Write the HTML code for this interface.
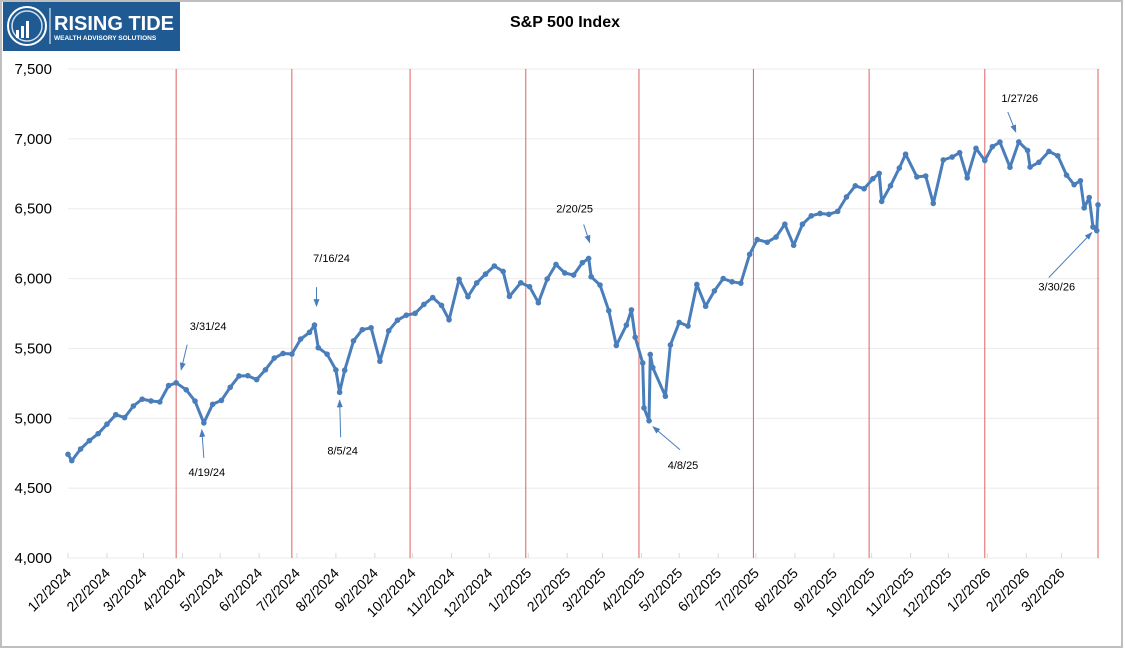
<!DOCTYPE html>
<html><head><meta charset="utf-8"><style>
body{margin:0;background:#fff;}
svg text{font-family:"Liberation Sans",sans-serif;}
</style></head><body>
<svg id="chart" width="1125" height="650" xmlns="http://www.w3.org/2000/svg">
<rect x="1" y="1" width="1121" height="646" fill="#fff" stroke="#bfbfbf" stroke-width="2"/>
<g>
<rect x="3" y="2" width="177" height="49" fill="#1f5a93"/>
<circle cx="27" cy="26" r="19" fill="none" stroke="#fff" stroke-width="2"/>
<circle cx="27" cy="26" r="15" fill="none" stroke="#cfe0f0" stroke-width="1.5"/>
<rect x="16" y="30" width="3" height="8" fill="#fff"/><rect x="21" y="26" width="3" height="12" fill="#fff"/><rect x="26" y="21" width="3" height="17" fill="#fff"/>
<line x1="50" y1="8" x2="50" y2="44" stroke="#fff" stroke-width="1"/>
<text x="54" y="30" font-size="20" font-weight="bold" fill="#fff">RISING TIDE</text>
<text x="54" y="40" font-size="6.5" font-weight="bold" fill="#fff">WEALTH ADVISORY SOLUTIONS</text>
</g>
<text x="565" y="27" font-size="16" font-weight="bold" text-anchor="middle">S&amp;P 500 Index</text>
<g id="grid"></g><g id="vlines"></g><g id="axes"></g><g id="series"></g><g id="ann"></g>
</svg>
<script>
const yTicks=[4000,4500,5000,5500,6000,6500,7000,7500];
const xTickLabels=["1/2/2024","2/2/2024","3/2/2024","4/2/2024","5/2/2024","6/2/2024","7/2/2024","8/2/2024","9/2/2024","10/2/2024","11/2/2024","12/2/2024","1/2/2025","2/2/2025","3/2/2025","4/2/2025","5/2/2025","6/2/2025","7/2/2025","8/2/2025","9/2/2025","10/2/2025","11/2/2025","12/2/2025","1/2/2026","2/2/2026","3/2/2026"];
const quarterLines=["3/28/2024","6/28/2024","9/30/2024","12/31/2024","3/31/2025","6/30/2025","9/30/2025","12/31/2025","3/31/2026"];
const dates=["1/2/2024","1/5/2024","1/12/2024","1/19/2024","1/26/2024","2/2/2024","2/9/2024","2/16/2024","2/23/2024","3/1/2024","3/8/2024","3/15/2024","3/22/2024","3/28/2024","4/5/2024","4/12/2024","4/19/2024","4/26/2024","5/3/2024","5/10/2024","5/17/2024","5/24/2024","5/31/2024","6/7/2024","6/14/2024","6/21/2024","6/28/2024","7/5/2024","7/12/2024","7/16/2024","7/19/2024","7/26/2024","8/2/2024","8/5/2024","8/9/2024","8/16/2024","8/23/2024","8/30/2024","9/6/2024","9/13/2024","9/20/2024","9/27/2024","10/4/2024","10/11/2024","10/18/2024","10/25/2024","10/31/2024","11/8/2024","11/15/2024","11/22/2024","11/29/2024","12/6/2024","12/13/2024","12/18/2024","12/27/2024","1/3/2025","1/10/2025","1/17/2025","1/24/2025","1/31/2025","2/7/2025","2/14/2025","2/19/2025","2/21/2025","2/28/2025","3/7/2025","3/13/2025","3/21/2025","3/25/2025","3/28/2025","4/3/2025","4/4/2025","4/8/2025","4/9/2025","4/11/2025","4/21/2025","4/25/2025","5/2/2025","5/9/2025","5/16/2025","5/23/2025","5/30/2025","6/6/2025","6/13/2025","6/20/2025","6/27/2025","7/3/2025","7/11/2025","7/18/2025","7/25/2025","8/1/2025","8/8/2025","8/15/2025","8/22/2025","8/29/2025","9/5/2025","9/12/2025","9/19/2025","9/26/2025","10/3/2025","10/8/2025","10/10/2025","10/17/2025","10/24/2025","10/29/2025","11/7/2025","11/14/2025","11/20/2025","11/28/2025","12/5/2025","12/11/2025","12/17/2025","12/24/2025","12/31/2025","1/6/2026","1/12/2026","1/20/2026","1/27/2026","2/3/2026","2/5/2026","2/12/2026","2/20/2026","2/27/2026","3/6/2026","3/12/2026","3/17/2026","3/20/2026","3/24/2026","3/27/2026","3/30/2026","3/31/2026"];
const values=[4742,4697,4780,4840,4890,4958,5026,5005,5088,5137,5124,5117,5234,5254,5204,5123,4967,5100,5128,5222,5303,5305,5277,5347,5431,5464,5460,5567,5615,5667,5505,5459,5346,5186,5344,5554,5634,5648,5408,5626,5702,5738,5751,5815,5864,5808,5705,5995,5870,5969,6032,6090,6051,5872,5970,5942,5827,5997,6101,6040,6025,6114,6144,6013,5954,5770,5521,5667,5776,5580,5396,5074,4982,5457,5363,5158,5525,5686,5660,5958,5802,5912,6000,5977,5967,6173,6279,6260,6297,6389,6238,6389,6449,6466,6460,6481,6584,6664,6643,6715,6753,6552,6664,6791,6890,6728,6734,6538,6849,6870,6901,6721,6932,6845,6944,6977,6797,6978,6917,6798,6832,6910,6879,6740,6672,6700,6506,6580,6369,6343,6528];
const annLabels=["3/31/24","4/19/24","7/16/24","8/5/24","2/20/25","4/8/25","1/27/26","3/30/26"];
const annDates=["3/28/2024","4/19/2024","7/16/2024","8/5/2024","2/19/2025","4/8/2025","1/27/2026","3/30/2026"];
const annValues=[5254,4967,5667,5186,6144,4982,6978,6343];

const NS="http://www.w3.org/2000/svg";
const X0=68,X1=1098,Y0=558,Y1=69;
const t0=Date.parse("1/2/2024"),t1=Date.parse("3/31/2026");
function xs(d){return X0+(Date.parse(d)-t0)/(t1-t0)*(X1-X0);}
function ys(v){return Y0-(v-4000)/3500*(Y0-Y1);}
function mk(tag,attrs,parent){const e=document.createElementNS(NS,tag);for(const k in attrs)e.setAttribute(k,attrs[k]);document.getElementById(parent).appendChild(e);return e;}
yTicks.forEach(v=>{
 const l=mk('line',{x1:X0,x2:X1+2,y1:ys(v),y2:ys(v),stroke:'#ebebeb','stroke-width':1},'grid');
 
 
 const t=mk('text',{x:52,y:ys(v)+5,'font-size':15,'text-anchor':'end',fill:'#000'},'axes');
 t.textContent=v.toLocaleString('en-US');
 
 
});
xTickLabels.forEach(d=>{
 const x=xs(d);
 const l=mk('line',{x1:x,x2:x,y1:Y0,y2:Y0-5,stroke:'#d9d9d9'},'axes');
 
 
 const t=mk('text',{x:x+4,y:Y0+16,'font-size':14,'text-anchor':'end',transform:`rotate(-45 ${x+4} ${Y0+16})`},'axes');
 t.textContent=d;
 
 
});
quarterLines.forEach(d=>{
 const l=mk('line',{x1:xs(d),x2:xs(d),y1:Y1,y2:Y0,stroke:'#e06060','stroke-width':1},'vlines');
 
 
});
const pts=dates.map((d,i)=>xs(d).toFixed(1)+','+ys(values[i]).toFixed(1)).join(' ');
const pl=mk('polyline',{points:pts,fill:'none',stroke:'#4a7ebb','stroke-width':3,'stroke-linejoin':'round'},'series');


dates.forEach((d,i)=>{
 const c=mk('circle',{cx:xs(d),cy:ys(values[i]),r:2.8,fill:'#4a7ebb'},'series');
 
 
});
const defs=document.createElementNS(NS,'defs');defs.innerHTML='<marker id="ah" markerWidth="8" markerHeight="8" refX="7" refY="4" orient="auto"><path d="M0,1 L8,4 L0,7z" fill="#4a7ebb"/></marker>';
document.getElementById('chart').appendChild(defs);
const lOff=[[32,-53],[3,53],[17,-63],[3,62],[-14,-46],[34,48],[1,-40],[-40,60]];
const tOff=[[11,-38],[0,35],[2,-38],[1,45],[-5,-34],[31,29],[-11,-30],[-48,47]];
const hOff=[[5,-13],[-2,7],[2,-19],[0,8],[1,-16],[4,6],[-3,-10],[-5,2]];
annLabels.forEach((lab,i)=>{
 const px=xs(annDates[i]),py=ys(annValues[i]);
 const a=mk('line',{x1:px+tOff[i][0],y1:py+tOff[i][1],x2:px+hOff[i][0],y2:py+hOff[i][1],stroke:'#4a7ebb','stroke-width':1,'marker-end':'url(#ah)'},'ann');
 
 
 const t=mk('text',{x:px+lOff[i][0],y:py+lOff[i][1],'font-size':11,'text-anchor':'middle'},'ann');
 t.textContent=lab;
 
 
});
</script>
</body></html>
